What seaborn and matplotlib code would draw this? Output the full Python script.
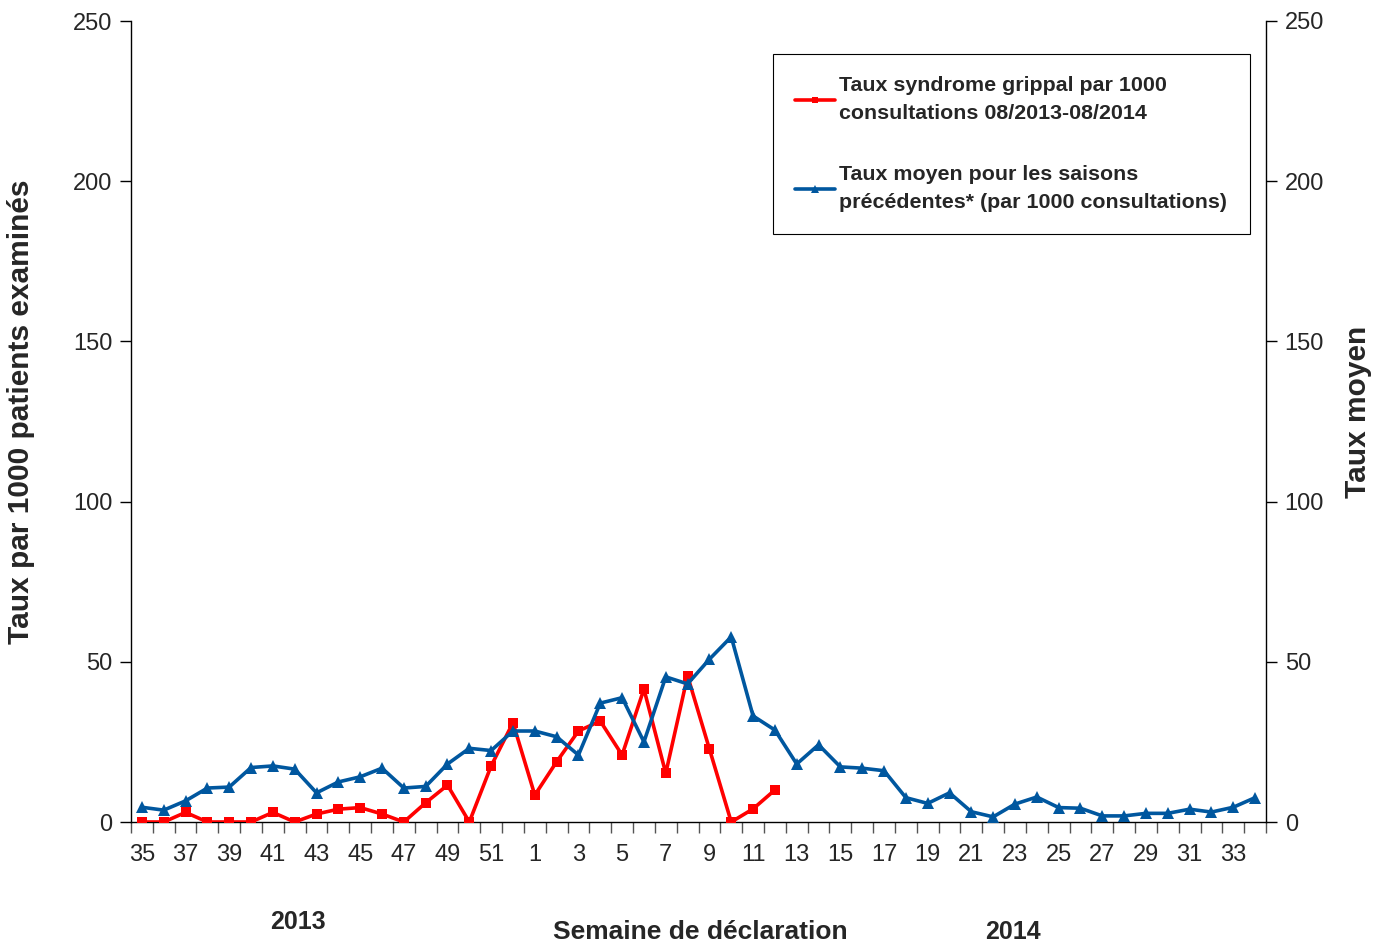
import matplotlib
matplotlib.use("Agg")
import matplotlib.pyplot as plt
import seaborn as sns
import pandas as pd
import numpy as np

# ---- data ----
weeks = [str(w) for w in list(range(35, 53)) + list(range(1, 35))]
red_values = [0, 0, 3, 0, 0, 0, 3, 0, 2.5, 4, 4.5, 2.5, 0, 6, 11.5, 0, 17.5, 31,
              8.4, 18.8, 28.4, 31.5, 20.9, 41.5, 15.2, 45.6, 22.8, 0, 4.1, 10.0]
blue_values = [4.6, 3.7, 6.6, 10.6, 10.9, 17, 17.5, 16.5, 9.1, 12.5, 14.1, 16.8, 10.6, 11.1,
               18.1, 23, 22.3, 28.4,
               28.4, 26.6, 20.9, 37.1, 38.8, 25, 45.3, 43.1, 50.8, 57.8, 33.1, 28.7,
               18.1, 24.1, 17.2, 16.8, 16, 7.6, 5.8, 9.1, 3.2, 1.6, 5.6, 7.8, 4.5, 4.3,
               1.9, 1.9, 2.7, 2.7, 4.0, 3.1, 4.6, 7.6]
y_ticks = [0, 50, 100, 150, 200, 250]
red_label = "Taux syndrome grippal par 1000\nconsultations 08/2013-08/2014"
blue_label = "Taux moyen pour les saisons\nprécédentes* (par 1000 consultations)"

sns.set_theme(style="white")
fam = ["Liberation Sans", "DejaVu Sans"]
plt.rcParams["font.family"] = fam

W, H = 1382, 947
fig = plt.figure(figsize=(W / 100, H / 100), dpi=100)
left, right, top, bottom = 131, 1266, 21, 822
ax = fig.add_axes([left / W, 1 - bottom / H, (right - left) / W, (bottom - top) / H])
ax2 = ax.twinx()

red_df = pd.DataFrame({"pos": np.arange(len(red_values)), "val": red_values})
blue_df = pd.DataFrame({"pos": np.arange(len(blue_values)), "val": blue_values})

red_c = "#FF0000"
blue_c = "#00579F"
sns.lineplot(data=red_df, x="pos", y="val", ax=ax, color=red_c, lw=2.6, marker="s",
             markersize=7, markeredgewidth=0, sort=False, label=red_label, legend=False, zorder=3)
sns.lineplot(data=blue_df, x="pos", y="val", ax=ax2, color=blue_c, lw=2.6, marker="^",
             markersize=8.5, markeredgewidth=0, sort=False, label=blue_label, legend=False, zorder=2)

n = len(weeks)
for a in (ax, ax2):
    a.set_xlim(-0.5, n - 0.5)
    a.set_ylim(0, 250)
    a.set_xlabel("")
    a.set_ylabel("")
    a.set_facecolor("none")
    for s in a.spines.values():
        s.set_visible(False)

ax.spines["left"].set_visible(True)
ax.spines["bottom"].set_visible(True)
ax2.spines["right"].set_visible(True)
for s in (ax.spines["left"], ax.spines["bottom"], ax2.spines["right"]):
    s.set_color("black")
    s.set_linewidth(1.0)

ax.set_yticks(y_ticks)
ax.set_yticklabels([str(t) for t in y_ticks])
ax2.set_yticks(y_ticks)
ax2.set_yticklabels([str(t) for t in y_ticks])
ax.tick_params(axis="y", direction="out", length=8, width=1, color="black", labelsize=17, pad=5.5, left=True)
ax2.tick_params(axis="y", direction="out", length=8, width=1, color="black", labelsize=17, pad=5.5, right=True)

ax.set_xticks(np.arange(0, n, 2))
ax.set_xticklabels(weeks[::2])
ax.set_xticks(np.arange(-0.5, n, 1), minor=True)
ax.tick_params(axis="x", which="major", length=0, labelsize=17, pad=16)
ax.tick_params(axis="x", which="minor", direction="out", length=8, width=1, color="#555555", bottom=True)

ax.set_ylabel("Taux par 1000 patients examinés", fontsize=21.5, fontweight="bold")
ax2.set_ylabel("Taux moyen", fontsize=21.5, fontweight="bold")
ax.yaxis.set_label_coords(-(left - 35) / (right - left), (bottom - 412) / (bottom - top))
ax2.yaxis.set_label_coords(1 + (1344 - right) / (right - left), (bottom - 412) / (bottom - top))

h1, l1 = ax.get_legend_handles_labels()
h2, l2 = ax2.get_legend_handles_labels()
leg = ax2.legend(h1 + h2, l1 + l2, loc="upper left",
                 bbox_to_anchor=((773 - left) / (right - left), (bottom - 54) / (bottom - top)),
                 frameon=True, fancybox=False, edgecolor="black", framealpha=1,
                 prop={"family": fam, "weight": "bold", "size": 15.4},
                 handlelength=1.85, handletextpad=0.2, labelspacing=2.0,
                 borderpad=1.05, borderaxespad=0, markerscale=0.6)
leg.get_frame().set_linewidth(0.8)
for t in leg.get_texts():
    t.set_linespacing(1.55)

fig.text(298 / W, 1 - 922 / H, "2013", ha="center", va="center", fontsize=18, fontweight="bold")
fig.text(700 / W, 1 - 932 / H, "Semaine de déclaration", ha="center", va="center", fontsize=19, fontweight="bold")
fig.text(1013 / W, 1 - 932 / H, "2014", ha="center", va="center", fontsize=18, fontweight="bold")

fig.savefig("out.png", dpi=100, facecolor="white")
